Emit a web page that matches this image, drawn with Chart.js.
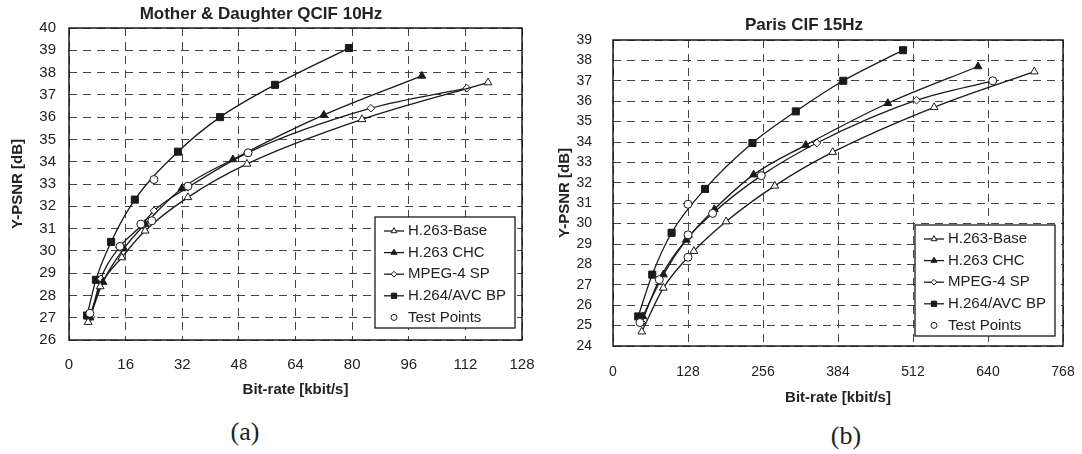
<!DOCTYPE html>
<html>
<head>
<meta charset="utf-8">
<script src="https://cdn.jsdelivr.net/npm/chart.js@4.4.1/dist/chart.umd.min.js"></script>
<style>
  body { margin: 0; background: #fff; width: 1082px; height: 454px; position: relative; overflow: hidden; }
  canvas { position: absolute; top: 0; }
  #left { left: 0; }
  #right { left: 545px; }
  .cap { position: absolute; font-family: 'Liberation Serif', 'DejaVu Serif', serif; font-size: 26px; line-height: 1; color: #222; transform: translateX(-50%); }
</style>
</head>
<body>
<canvas id="left" width="540" height="410"></canvas>
<canvas id="right" width="530" height="410"></canvas>
<div class="cap" style="left:245px; top:419px;">(a)</div>
<div class="cap" style="left:846px; top:423px;">(b)</div>
<script>
// series names, same for both plots
const seriesNames = ['H.263-Base', 'H.263 CHC', 'MPEG-4 SP', 'H.264/AVC BP', 'Test Points'];

// (a) Mother & Daughter QCIF 10Hz
const mdBaseRate = [5.4, 8.8, 14.9, 21.5, 33.6, 50.3, 82.8, 118.4];
const mdBasePsnr = [26.8, 28.4, 29.7, 30.9, 32.4, 33.9, 35.9, 37.55];
const mdChcRate = [5.9, 9.6, 15.5, 21.5, 31.9, 46.3, 72.0, 99.7];
const mdChcPsnr = [27.0, 28.6, 30.1, 31.2, 32.8, 34.1, 36.1, 37.85];
const mdMpegRate = [6.2, 9.0, 14.2, 20.5, 24.0, 33.6, 50.5, 85.3, 112.4];
const mdMpegPsnr = [27.05, 28.75, 30.15, 31.15, 31.8, 32.85, 34.4, 36.4, 37.3];
const mdAvcRate = [5.1, 7.6, 11.9, 18.6, 30.8, 42.7, 58.2, 79.1];
const mdAvcPsnr = [27.1, 28.7, 30.4, 32.3, 34.45, 36.0, 37.45, 39.1];
const mdTestRate = [5.9, 14.4, 20.3, 23.4, 24.0, 33.6, 50.6];
const mdTestPsnr = [27.2, 30.2, 31.2, 31.35, 33.2, 32.9, 34.4];

// (b) Paris CIF 15Hz
const paBaseRate = [49, 86, 138, 193, 276, 375, 548, 719];
const paBasePsnr = [24.7, 26.85, 28.65, 30.1, 31.85, 33.5, 35.7, 37.45];
const paChcRate = [51, 86, 125, 173, 240, 329, 469, 623];
const paChcPsnr = [25.45, 27.5, 29.2, 30.7, 32.4, 33.85, 35.9, 37.7];
const paMpegRate = [49, 79, 129, 170, 253, 348, 518, 648];
const paMpegPsnr = [25.15, 27.25, 29.35, 30.5, 32.35, 33.95, 36.05, 37.0];
const paAvcRate = [43, 67, 100, 157, 238, 312, 393, 495];
const paAvcPsnr = [25.45, 27.5, 29.55, 31.7, 33.95, 35.5, 37.0, 38.5];
const paTestRate = [46, 79, 128, 128, 128, 170, 253, 648];
const paTestPsnr = [25.15, 27.25, 30.95, 29.45, 28.35, 30.5, 32.35, 37.0];

const INK = '#1a1a1a';
const SANS = "'Liberation Sans', Arial, sans-serif";

function pts(xs, ys) {
    return xs.map((x, i) => ({ x: x, y: ys[i] }));
}

// marker look for each series, in legend order
const markers = [
    { pointStyle: 'triangle', radius: 4.5, fill: '#fff' },
    { pointStyle: 'triangle', radius: 4.5, fill: INK },
    { pointStyle: 'rectRot', radius: 3.8, fill: '#fff' },
    { pointStyle: 'rect', radius: 5, fill: INK },
    { pointStyle: 'circle', radius: 4, fill: '#fff' }
];

function makeDatasets(list) {
    return list.map((data, i) => ({
        label: seriesNames[i],
        data: data,
        showLine: i < 4,
        order: i < 4 ? 1 : 0,
        borderColor: INK,
        borderWidth: 1.3,
        cubicInterpolationMode: 'monotone',
        pointStyle: markers[i].pointStyle,
        pointRadius: markers[i].radius,
        pointBackgroundColor: markers[i].fill,
        pointBorderColor: INK,
        pointBorderWidth: 1
    }));
}

// solid frame round the plot area
const frame = {
    id: 'frame',
    afterDatasetsDraw(chart) {
        const a = chart.chartArea;
        const ctx = chart.ctx;
        ctx.save();
        ctx.strokeStyle = INK;
        ctx.lineWidth = 1.5;
        ctx.strokeRect(a.left, a.top, a.right - a.left, a.bottom - a.top);
        ctx.restore();
    }
};

// boxed legend in the lower right corner of the plot
const boxLegend = {
    id: 'boxLegend',
    afterDraw(chart, args, opts) {
        const a = chart.chartArea;
        const ctx = chart.ctx;
        const w = 140, h = 111;
        const x0 = a.right - opts.right - w;
        const y0 = a.bottom - opts.bottom - h;
        ctx.save();
        ctx.fillStyle = '#fff';
        ctx.fillRect(x0, y0, w, h);
        ctx.strokeStyle = INK;
        ctx.lineWidth = 1.3;
        ctx.strokeRect(x0, y0, w, h);
        ctx.font = '15px ' + SANS;
        ctx.textBaseline = 'middle';
        chart.data.datasets.forEach((ds, i) => {
            const y = y0 + 14 + i * 21.6;
            ctx.strokeStyle = INK;
            ctx.lineWidth = 1.3;
            if (ds.showLine) {
                ctx.beginPath();
                ctx.moveTo(x0 + 9, y);
                ctx.lineTo(x0 + 29, y);
                ctx.stroke();
            }
            ctx.fillStyle = markers[i].fill;
            ctx.lineWidth = 1;
            Chart.helpers.drawPoint(ctx, {
                pointStyle: markers[i].pointStyle,
                radius: markers[i].radius * 0.75,
                rotation: 0,
                borderWidth: 1
            }, x0 + 19, y);
            ctx.fillStyle = '#222';
            ctx.fillText(ds.label, x0 + 33, y);
        });
        ctx.restore();
    }
};

function makeChart(id, s) {
    new Chart(document.getElementById(id).getContext('2d'), {
        type: 'line',
        data: { datasets: makeDatasets(s.series) },
        plugins: [frame, boxLegend],
        options: {
            responsive: false,
            animation: false,
            layout: { padding: { left: 0, right: s.padRight, top: 0, bottom: 0 } },
            plugins: {
                legend: { display: false },
                tooltip: { enabled: false },
                title: {
                    display: true,
                    text: s.title,
                    color: '#222',
                    font: { family: SANS, size: 17, weight: 'bold' },
                    padding: s.titlePad
                },
                boxLegend: s.legendInset
            },
            scales: {
                x: {
                    type: 'linear',
                    min: s.xMin, max: s.xMax,
                    afterFit: scale => {
                        scale.height = s.xHeight;
                        scale.paddingLeft = 0;
                        scale.paddingRight = 0;
                    },
                    ticks: {
                        stepSize: s.xStep,
                        autoSkip: false,
                        padding: s.xTickPad,
                        color: '#222',
                        font: { family: SANS, size: s.tickSize }
                    },
                    grid: { color: '#444', lineWidth: 1, drawTicks: false },
                    border: { display: false, dash: [8, 6] },
                    title: {
                        display: true,
                        text: 'Bit-rate [kbit/s]',
                        color: '#222',
                        font: { family: SANS, size: 15, weight: 'bold' },
                        padding: { top: 0, bottom: s.xTitlePad }
                    }
                },
                y: {
                    min: s.yMin, max: s.yMax,
                    afterFit: scale => { scale.width = s.yWidth; },
                    ticks: {
                        stepSize: 1,
                        autoSkip: false,
                        padding: s.yTickPad,
                        color: '#222',
                        font: { family: SANS, size: s.tickSize }
                    },
                    grid: { color: '#444', lineWidth: 1, drawTicks: false },
                    border: { display: false, dash: [8, 6] },
                    title: {
                        display: true,
                        text: 'Y-PSNR [dB]',
                        color: '#222',
                        font: { family: SANS, size: 15, weight: 'bold' },
                        padding: { top: s.yTitlePad, bottom: 0 }
                    }
                }
            }
        }
    });
}

makeChart('left', {
    title: 'Mother & Daughter QCIF 10Hz',
    series: [
        pts(mdBaseRate, mdBasePsnr),
        pts(mdChcRate, mdChcPsnr),
        pts(mdMpegRate, mdMpegPsnr),
        pts(mdAvcRate, mdAvcPsnr),
        pts(mdTestRate, mdTestPsnr)
    ],
    padRight: 18,
    titlePad: { top: 4, bottom: 3.6 },
    xMin: 0, xMax: 128, xStep: 16,
    yMin: 26, yMax: 40,
    xHeight: 70, yWidth: 69,
    xTickPad: 16, yTickPad: 13,
    xTitlePad: 11, yTitlePad: 9,
    tickSize: 15,
    legendInset: { right: 7, bottom: 12 }
});

makeChart('right', {
    title: 'Paris CIF 15Hz',
    series: [
        pts(paBaseRate, paBasePsnr),
        pts(paChcRate, paChcPsnr),
        pts(paMpegRate, paMpegPsnr),
        pts(paAvcRate, paAvcPsnr),
        pts(paTestRate, paTestPsnr)
    ],
    padRight: 12,
    titlePad: { top: 14.8, bottom: 4.8 },
    xMin: 0, xMax: 768, xStep: 128,
    yMin: 24, yMax: 39,
    xHeight: 64, yWidth: 68,
    xTickPad: 17.5, yTickPad: 21,
    xTitlePad: 3, yTitlePad: 11,
    tickSize: 14,
    legendInset: { right: 8, bottom: 10 }
});
</script>
</body>
</html>
